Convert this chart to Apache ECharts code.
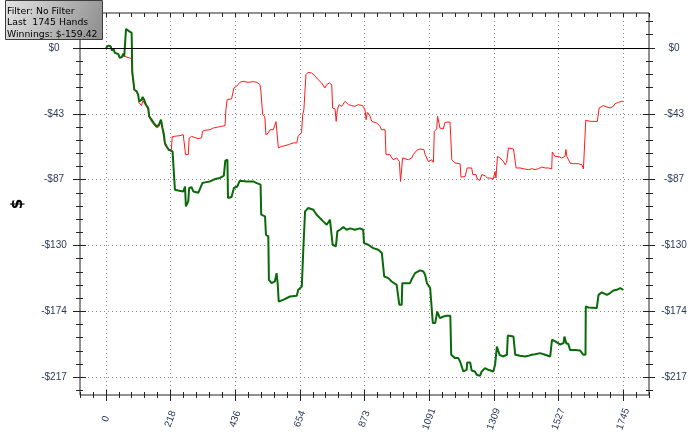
<!DOCTYPE html>
<html>
<head>
<meta charset="utf-8">
<script src="https://cdn.jsdelivr.net/npm/echarts@6/dist/echarts.min.js"></script>
<style>
  html, body { margin: 0; padding: 0; background: #fff; }
  #chart { width: 700px; height: 436px; }
</style>
</head>
<body>
<div id="chart"></div>
<script>
// [hand, cumulative $]
var redLine = [
  [0,0],[8,1.5],[16,1.1],[20,-1.6],[27,-1.1],[30,-3.3],[42,-4.0],[47,-6.6],[55,-5.9],[58,-3.8],[62,-5.5],[68,-6.6],[87,-7.1],[89,-17.6],[96,-27.5],[104,-29.1],[109,-31.5],[112,-36.1],[120,-38.0],[125,-34.8],[129,-36.1],[135,-38.0],[143,-40.7],[146,-45.4],[154,-48.6],[162,-50.6],[171,-52.6],[179,-51.9],[186,-48.6],[191,-53.9],[196,-59.1],[199,-63.8],[205,-65.7],[212,-67.0],[221,-67.0],[224,-58.5],[233,-58.2],[250,-57.8],[261,-57.2],[267,-58.2],[269,-70.3],[278,-70.3],[281,-59.5],[289,-58.3],[295,-58.7],[311,-59.8],[323,-59.3],[326,-55.0],[334,-54.3],[351,-53.9],[362,-52.8],[379,-52.1],[390,-51.7],[402,-51.2],[405,-40.7],[409,-34.1],[424,-33.6],[430,-33.0],[432,-26.4],[441,-25.3],[452,-22.7],[463,-22.0],[480,-22.7],[497,-22.2],[509,-22.7],[520,-24.2],[523,-28.6],[529,-44.0],[536,-45.1],[540,-57.2],[548,-56.0],[554,-53.9],[559,-55.0],[565,-53.9],[570,-52.8],[574,-48.6],[580,-48.6],[582,-65.9],[593,-64.9],[604,-64.4],[615,-63.8],[632,-62.6],[644,-62.6],[649,-57.8],[660,-56.0],[664,-44.0],[668,-40.7],[675,-17.6],[682,-16.1],[694,-16.5],[705,-18.3],[716,-20.9],[728,-23.1],[739,-26.4],[745,-24.2],[754,-23.1],[762,-24.2],[765,-39.6],[773,-40.2],[777,-48.4],[781,-40.7],[787,-37.4],[795,-38.5],[807,-35.2],[818,-37.4],[829,-38.0],[840,-38.5],[851,-37.4],[866,-38.0],[874,-40.7],[878,-47.3],[882,-42.5],[889,-44.0],[897,-48.4],[914,-49.5],[925,-51.7],[930,-53.9],[942,-53.9],[945,-70.3],[958,-70.3],[969,-73.7],[981,-72.5],[990,-74.8],[994,-88.0],[1000,-86.8],[1001,-72.5],[1020,-73.7],[1032,-72.5],[1037,-70.3],[1049,-67.5],[1060,-66.6],[1065,-65.3],[1073,-67.0],[1077,-70.3],[1088,-74.8],[1099,-73.7],[1105,-75.4],[1108,-55.0],[1116,-53.4],[1119,-45.1],[1125,-46.2],[1127,-52.8],[1138,-53.4],[1144,-49.1],[1161,-48.8],[1167,-73.7],[1178,-75.8],[1195,-76.3],[1198,-85.1],[1212,-84.7],[1219,-79.1],[1234,-79.1],[1238,-83.5],[1249,-83.5],[1253,-86.4],[1262,-87.3],[1268,-83.5],[1279,-84.2],[1287,-85.7],[1296,-85.7],[1307,-86.4],[1313,-81.4],[1316,-85.7],[1321,-71.5],[1330,-72.5],[1341,-74.8],[1347,-77.0],[1352,-75.4],[1358,-65.9],[1375,-66.6],[1380,-67.0],[1384,-79.1],[1397,-79.1],[1414,-79.8],[1425,-80.2],[1437,-79.6],[1448,-80.2],[1459,-79.6],[1471,-78.5],[1482,-79.1],[1493,-79.1],[1504,-79.8],[1506,-68.6],[1515,-71.5],[1527,-71.5],[1538,-72.5],[1549,-71.5],[1552,-67.0],[1555,-71.5],[1566,-75.8],[1577,-76.3],[1594,-76.3],[1606,-77.0],[1611,-79.8],[1617,-79.8],[1619,-47.7],[1634,-48.4],[1658,-48.4],[1664,-39.6],[1678,-38.0],[1690,-38.9],[1701,-39.6],[1712,-38.5],[1718,-36.7],[1729,-35.9],[1740,-35.2],[1745,-35.2]
];
var greenLine = [
  [0,0],[8,1.5],[16,1.1],[20,-1.6],[27,-1.1],[30,-3.3],[42,-4.0],[47,-6.6],[55,-5.9],[58,-3.8],[62,-5.5],[68,12.5],[79,10.9],[87,9.9],[89,-15.4],[96,-27.5],[104,-28.6],[109,-30.8],[112,-35.2],[121,-34.1],[124,-32.3],[129,-34.1],[135,-37.4],[143,-39.6],[146,-45.1],[154,-47.3],[162,-49.5],[171,-51.7],[179,-50.6],[186,-47.3],[191,-52.7],[196,-57.2],[199,-62.6],[205,-64.9],[212,-67.1],[225,-68.2],[233,-93.4],[244,-93.9],[261,-94.6],[267,-91.3],[270,-104.4],[278,-101.1],[281,-92.3],[289,-91.8],[295,-94.6],[312,-95.4],[326,-89],[334,-88.6],[351,-88],[368,-86.4],[385,-85.7],[398,-84.2],[403,-74.3],[410,-73.7],[412,-98.9],[424,-98.2],[432,-92.3],[443,-91.3],[452,-87.5],[475,-88],[497,-88],[509,-89.1],[522,-90.1],[524,-109.9],[537,-111],[540,-123.1],[548,-124.2],[550,-152.8],[559,-155],[570,-153.9],[576,-148.4],[580,-156.1],[583,-167.1],[598,-166],[621,-163.8],[644,-163.3],[649,-159.4],[661,-157.2],[666,-133],[672,-107.7],[683,-105.5],[700,-106.6],[711,-109.9],[722,-112.1],[733,-114.3],[745,-116.5],[756,-113.2],[762,-112.8],[765,-129.7],[776,-130.8],[781,-120.9],[790,-119.8],[801,-118],[812,-119.8],[824,-118.9],[840,-119.8],[857,-118.9],[868,-119.8],[871,-128.6],[885,-129.7],[902,-131.9],[919,-133],[931,-135.2],[936,-136.3],[939,-150.6],[953,-151.7],[964,-153.9],[981,-156.1],[987,-156.1],[990,-169.3],[998,-169.3],[1000,-155],[1026,-155],[1032,-152.3],[1043,-148.4],[1060,-146.6],[1071,-147.3],[1077,-149.5],[1083,-155],[1094,-158.2],[1100,-159.4],[1103,-181.3],[1111,-181.3],[1118,-173.7],[1127,-178],[1133,-179.1],[1139,-177],[1150,-176.5],[1162,-176.5],[1165,-202.2],[1178,-204.4],[1189,-204.4],[1195,-206.6],[1206,-213.2],[1217,-212.1],[1219,-207.3],[1229,-207.3],[1234,-212.6],[1245,-213.2],[1251,-215.4],[1262,-216.1],[1268,-213.2],[1279,-211],[1290,-212.1],[1296,-212.6],[1307,-213.2],[1313,-208.8],[1319,-196.8],[1324,-197.2],[1328,-202.2],[1339,-203.3],[1343,-204.4],[1353,-202.2],[1356,-189.5],[1375,-190.2],[1381,-202.2],[1397,-202.9],[1414,-203.3],[1425,-202.9],[1437,-202.2],[1448,-201.8],[1465,-201.1],[1482,-202.2],[1499,-203.3],[1504,-203.3],[1505,-192.3],[1516,-193.4],[1532,-195.4],[1544,-194.5],[1547,-190.2],[1553,-194.6],[1560,-195.1],[1566,-199],[1583,-199],[1600,-199.4],[1611,-202.2],[1618,-202.2],[1619,-170.4],[1628,-171],[1656,-171.4],[1662,-162.7],[1673,-161.1],[1690,-162.7],[1701,-161.5],[1712,-159.8],[1724,-159.4],[1735,-158.2],[1745,-159.42]
];

var xMajor = [0, 218.125, 436.25, 654.375, 872.5, 1090.625, 1308.75, 1526.875, 1745];
var yMajor = [0, -43.4, -86.8, -130.2, -173.6, -217];
var infoLines = ['Filter: No Filter', 'Last  1745 Hands', 'Winnings: $-159.42'];

var xMin = -87.25, xMax = 1832.25;
var yMin = -228.7, yMax = 23;

// 5 minor steps per major step
function minors(step, lo, hi) {
  var out = [];
  for (var k = Math.ceil(lo / step - 1e-9); k * step <= hi + 1e-9; k++) {
    out.push(+(k * step).toFixed(4));
  }
  return out;
}
var xMinor = minors(218.125 / 5, xMin, xMax);
var yMinor = minors(43.4 / 5, yMin, yMax);

var labelColor = '#2b3a58';
var gridLine = { show: true, lineStyle: { color: '#8a8a8a', width: 1, type: [1, 3] } };

// offset < 0 pulls the axis into the plot so the ticks straddle the frame
function tickAxis(base, ticks, len, inside) {
  return Object.assign({
    type: 'value',
    axisLine: { show: false, onZero: false },
    axisTick: { show: true, customValues: ticks, length: len, inside: !!inside, lineStyle: { color: '#222' } },
    axisLabel: { show: false },
    splitLine: { show: false }
  }, base);
}

var xAxes = [
  tickAxis({ min: xMin, max: xMax, position: 'bottom', offset: -5,
    axisLabel: {
      show: true, customValues: xMajor, rotate: 70, align: 'center', verticalAlign: 'middle',
      margin: 29, color: labelColor, fontSize: 10, fontFamily: 'Liberation Sans',
      formatter: function (v) { return String(Math.round(v)); }
    },
    splitLine: gridLine
  }, xMajor, 11),
  tickAxis({ min: xMin, max: xMax, position: 'bottom', offset: -3 }, xMinor, 6),
  tickAxis({ min: xMin, max: xMax, position: 'top', offset: 0 }, xMinor, 4, true)
];

function dollar(v) {
  var r = Math.round(Math.abs(v));
  return (v < -0.001 ? '-$' : '$') + r;
}

var yAxes = [
  tickAxis({ min: yMin, max: yMax, position: 'left', offset: -6,
    name: '$', nameLocation: 'middle', nameRotate: 90, nameGap: 60,
    nameTextStyle: { color: '#000', fontSize: 15, fontWeight: 'bold', fontFamily: 'DejaVu Sans' },
    axisLabel: { show: true, customValues: yMajor, align: 'center', margin: 32,
      color: labelColor, fontSize: 10, fontFamily: 'Liberation Sans', formatter: dollar },
    splitLine: gridLine
  }, yMajor, 13),
  tickAxis({ min: yMin, max: yMax, position: 'left', offset: -3 }, yMinor, 7),
  tickAxis({ min: yMin, max: yMax, position: 'right', offset: -6,
    axisLabel: { show: true, customValues: yMajor, align: 'center', margin: 31,
      color: labelColor, fontSize: 10, fontFamily: 'Liberation Sans', formatter: dollar }
  }, yMajor, 12),
  tickAxis({ min: yMin, max: yMax, position: 'right', offset: -3 }, yMinor, 7)
];

var infoText = infoLines.map(function (t, i) {
  return {
    type: 'text', left: 7, top: 7 + i * 11.3, z: 101,
    style: { text: t, fill: '#000', font: '9.3px "DejaVu Sans"' }
  };
});

var chart = echarts.init(document.getElementById('chart'), null, { renderer: 'canvas' });
chart.setOption({
  animation: false,
  backgroundColor: '#fff',
  grid: { left: 80, right: 51, top: 13, bottom: 41, show: true, borderColor: '#222', borderWidth: 1, outerBoundsMode: 'none' },
  xAxis: xAxes,
  yAxis: yAxes,
  series: [
    {
      type: 'line', xAxisIndex: 0, yAxisIndex: 0, data: redLine,
      showSymbol: false, silent: true,
      lineStyle: { color: '#ff1a1a', width: 1 }
    },
    {
      type: 'line', xAxisIndex: 0, yAxisIndex: 0, data: greenLine,
      showSymbol: false, silent: true,
      lineStyle: { color: '#0a6a0a', width: 2 },
      markLine: {
        silent: true, symbol: 'none', label: { show: false },
        lineStyle: { color: '#000', width: 1, type: 'solid' },
        data: [{ yAxis: 0 }]
      }
    }
  ],
  graphic: [
    {
      type: 'rect', left: 5, top: 0, z: 100,
      shape: { width: 97, height: 39 },
      style: {
        fill: new echarts.graphic.LinearGradient(0, 0, 1, 1, [
          { offset: 0, color: '#e4e4e4' },
          { offset: 1, color: '#8c8c8c' }
        ]),
        stroke: '#3c3c3c', lineWidth: 1
      }
    }
  ].concat(infoText)
});
</script>
</body>
</html>
